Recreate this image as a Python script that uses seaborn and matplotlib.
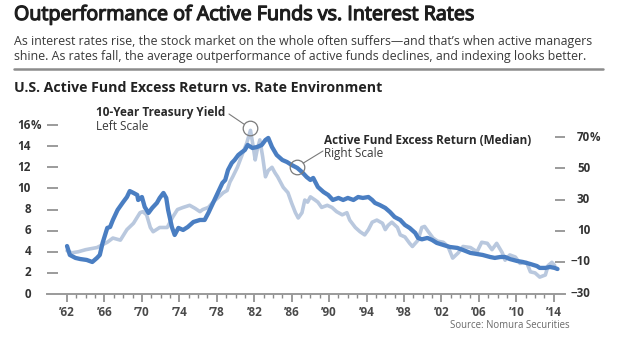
import matplotlib
matplotlib.use("Agg")
import matplotlib.pyplot as plt
import matplotlib.patheffects as pe
from matplotlib.ticker import FixedLocator
import pandas as pd
import seaborn as sns

# ---- data -------------------------------------------------------------
# 10-year Treasury yield, % (left scale)
yield_years = [
    1962.0, 1962.5, 1963.2, 1964.0, 1965.2, 1966.3, 1966.9, 1967.7, 1968.4, 1969.1,
    1969.8, 1970.1, 1970.5, 1970.9, 1971.2, 1971.9, 1972.7, 1973.3, 1973.8, 1974.4,
    1975.1, 1975.7, 1976.2, 1976.5, 1977.1, 1977.6, 1978.1, 1978.7, 1979.1, 1979.4,
    1979.7, 1980.2, 1980.5, 1980.8, 1981.2, 1981.6, 1981.9, 1982.1, 1982.3, 1982.6,
    1982.9, 1983.2, 1983.5, 1983.9, 1984.2, 1984.5, 1985.1, 1985.6, 1986.0, 1986.4,
    1986.7, 1987.1, 1987.4, 1987.7, 1988.0, 1988.5, 1988.8, 1989.2, 1989.8, 1990.3,
    1990.8, 1991.4, 1991.9, 1992.2, 1992.8, 1993.3, 1993.8, 1994.2, 1994.6, 1995.1,
    1995.7, 1996.0, 1996.3, 1996.7, 1997.3, 1997.6, 1998.1, 1998.6, 1998.9, 1999.5,
    1999.9, 2000.2, 2000.6, 2001.1, 2001.6, 2002.2, 2002.7, 2003.2, 2003.8, 2004.3,
    2005.1, 2005.8, 2006.3, 2006.9, 2007.4, 2007.9, 2008.5, 2008.8, 2009.3, 2009.9,
    2010.4, 2011.1, 2011.5, 2012.0, 2012.5, 2013.1, 2013.4, 2013.8, 2014.1,
]
yield_pct = [
    4.1, 3.9, 4.0, 4.2, 4.4, 4.9, 5.3, 5.1, 6.1, 6.7,
    7.7, 7.8, 7.5, 6.3, 5.9, 6.3, 6.3, 7.3, 8.0, 8.2,
    8.4, 8.1, 7.8, 8.0, 8.2, 8.7, 9.1, 9.6, 9.8, 10.6,
    11.1, 12.0, 12.7, 13.4, 14.3, 15.5, 13.9, 12.7, 13.6, 14.6,
    13.0, 11.1, 11.7, 12.0, 11.5, 11.1, 10.1, 9.6, 8.6, 7.7,
    7.2, 7.7, 8.9, 8.7, 9.2, 8.9, 8.7, 8.2, 8.4, 8.2,
    7.8, 7.5, 7.7, 7.0, 6.3, 5.9, 5.6, 6.1, 6.8, 7.0,
    6.7, 6.1, 6.5, 6.8, 6.3, 5.6, 5.4, 4.8, 4.5, 5.1,
    6.3, 6.4, 5.9, 5.3, 5.0, 4.9, 4.5, 3.4, 3.9, 4.5,
    4.4, 4.0, 4.9, 4.8, 4.2, 4.8, 3.9, 3.2, 3.7, 3.5,
    2.9, 3.0, 2.1, 2.0, 1.6, 1.8, 2.7, 3.0, 2.7,
]

# Median active-fund excess return, % (right scale)
excess_years = [
    1962.0, 1962.3, 1962.9, 1963.4, 1964.1, 1964.7, 1965.2, 1965.5, 1965.8, 1966.3,
    1966.6, 1966.9, 1967.4, 1968.0, 1968.4, 1968.7, 1969.1, 1969.5, 1969.6, 1970.0,
    1970.3, 1970.7, 1971.1, 1971.6, 1971.9, 1972.3, 1972.6, 1972.8, 1973.2, 1973.5,
    1973.9, 1974.4, 1974.9, 1975.5, 1976.2, 1976.7, 1977.1, 1977.6, 1978.1, 1978.6,
    1978.9, 1979.2, 1979.6, 1979.9, 1980.3, 1980.7, 1981.0, 1981.3, 1981.8, 1982.3,
    1982.8, 1983.2, 1983.5, 1983.9, 1984.4, 1985.0, 1985.5, 1986.0, 1986.6, 1987.1,
    1987.6, 1988.0, 1988.3, 1988.8, 1989.4, 1989.9, 1990.4, 1991.0, 1991.5, 1992.0,
    1992.6, 1993.1, 1993.6, 1994.2, 1994.6, 1994.9, 1995.4, 1996.0, 1996.5, 1997.0,
    1997.6, 1998.1, 1998.6, 1999.2, 1999.5, 1999.9, 2000.5, 2001.0, 2001.5, 2002.2,
    2002.9, 2003.7, 2004.3, 2005.1, 2005.8, 2006.4, 2007.2, 2007.7, 2008.3, 2008.8,
    2009.3, 2010.1, 2010.7, 2011.5, 2012.2, 2012.5, 2013.1, 2013.6, 2014.1, 2014.4,
]
excess_pct = [
    0.2, -5.5, -7.4, -8.1, -8.7, -10.0, -7.4, -5.5, 2.2, 11.8,
    12.4, 16.9, 23.3, 28.4, 31.6, 35.4, 34.2, 32.9, 29.7, 31.6,
    25.2, 21.4, 24.6, 27.8, 31.0, 34.2, 31.0, 23.3, 12.4, 7.3,
    11.8, 10.5, 12.4, 15.6, 16.9, 16.9, 21.4, 27.8, 34.2, 40.6,
    42.5, 48.9, 53.4, 55.3, 58.5, 60.4, 61.7, 64.9, 63.0, 63.6,
    64.9, 68.1, 69.4, 63.6, 58.5, 55.3, 54.0, 52.1, 50.2, 47.6,
    44.4, 42.5, 43.8, 38.0, 34.8, 32.9, 29.7, 31.0, 29.7, 31.0,
    29.7, 31.6, 31.0, 31.6, 29.7, 27.8, 26.5, 24.6, 22.0, 18.8,
    16.9, 13.7, 11.8, 8.6, 5.4, 4.5, 5.4, 4.1, 2.2, 0.9,
    -0.4, -1.0, -2.3, -4.2, -4.9, -5.5, -6.8, -7.4, -6.8, -6.8,
    -8.1, -9.4, -10.0, -11.3, -12.6, -13.8, -13.8, -13.2, -13.8, -14.5,
]

left_ticks = [2, 4, 6, 8, 10, 12, 14, 16]
left_labels = ["0", "2", "4", "6", "8", "10", "12", "14", "16"]
right_ticks = [-10, 10, 30, 50, 70]
right_labels = ["\u221230", "\u221210", "10", "30", "50", "70"]
year_ticks = list(range(1962, 2015, 4))
year_labels = ["\u2019" + str(y)[2:] for y in year_ticks]

title = "Outperformance of Active Funds vs. Interest Rates"
subtitle = ("As interest rates rise, the stock market on the whole often suffers\u2014and that\u2019s when active managers\n"
            "shine. As rates fall, the average outperformance of active funds declines, and indexing looks better.")
chart_title = "U.S. Active Fund Excess Return vs. Rate Environment"
source = "Source: Nomura Securities"

# ---- styling ----------------------------------------------------------
sns.set_theme(style="white")
plt.rcParams["font.family"] = ["Open Sans", "DejaVu Sans"]

DARK = "#4a7ec2"
LIGHT = "#b9c8de"
GREY_TICK = "#8a8a8a"
TICK_TEXT = "#333333"

W, H = 620, 337
fig = plt.figure(figsize=(W / 100, H / 100), dpi=100)
fig.patch.set_facecolor("white")

# plot area in pixel terms: x 47..565, y 120..294 (from top)
x0, x1, ytop, ybot = 47, 565, 120, 294
ax = fig.add_axes([x0 / W, (H - ybot) / H, (x1 - x0) / W, (ybot - ytop) / H])
ax2 = ax.twinx()

df_yield = pd.DataFrame({"year": yield_years, "pct": yield_pct})
df_excess = pd.DataFrame({"year": excess_years, "pct": excess_pct})

sns.lineplot(data=df_yield, x="year", y="pct", ax=ax, color=LIGHT, lw=2.6,
             solid_joinstyle="round", solid_capstyle="round")
sns.lineplot(data=df_excess, x="year", y="pct", ax=ax2, color=DARK, lw=3.1,
             solid_joinstyle="round", solid_capstyle="round")

ax.set_xlim(1959.86, 2015.2)
ax.set_ylim(0, 16.48)
ax2.set_ylim(-30.5, 80.9)

for a in (ax, ax2):
    a.set_xlabel("")
    a.set_ylabel("")
    a.set_facecolor("none")
    for s in ("top", "left", "right", "bottom"):
        a.spines[s].set_visible(False)

ax.spines["bottom"].set_visible(True)
ax.spines["bottom"].set_color("#9a9a9a")
ax.spines["bottom"].set_linewidth(1.4)

# x ticks: labelled every 4 years, minor every year
ax.xaxis.set_major_locator(FixedLocator(year_ticks))
ax.xaxis.set_minor_locator(FixedLocator(list(range(1962, 2015))))
ax.set_xticklabels(year_labels)
ax.tick_params(axis="x", which="major", direction="out", length=6, width=1.2,
               color=GREY_TICK, pad=3.0, labelsize=8.4, labelcolor="#4a4a4a", bottom=True)
ax.tick_params(axis="x", which="minor", direction="out", length=3, width=1.0,
               color=GREY_TICK, bottom=True)
for lab in ax.get_xticklabels():
    lab.set_fontweight("bold")

# y tick dashes inside the plot, labels placed as hanging numbers
ax.set_yticks(left_ticks)
ax.tick_params(axis="y", which="major", direction="in", length=8, width=1.2,
               color=GREY_TICK, left=True, labelleft=False)
ax2.set_yticks(right_ticks)
ax2.tick_params(axis="y", which="major", direction="in", length=7.5, width=1.2,
                color=GREY_TICK, right=True, labelright=False)
ax2.tick_params(axis="x", bottom=False, labelbottom=False)

TICK_FS = 8.4
lt = ax.get_yaxis_transform()
lx = (31 - x0) / (x1 - x0)
for v, s in zip([0] + left_ticks, left_labels):
    ax.text(lx, v, s, transform=lt, ha="right", va="center", fontsize=TICK_FS,
            fontweight="bold", color=TICK_TEXT)
ax.text(lx, 16, "%", transform=lt, ha="left", va="center", fontsize=TICK_FS,
        fontweight="bold", color=TICK_TEXT)

rt = ax2.get_yaxis_transform()
rx = (590 - x0) / (x1 - x0)
for v, s in zip([-30] + right_ticks, right_labels):
    ax2.text(rx, v, s, transform=rt, ha="right", va="center", fontsize=TICK_FS,
             fontweight="bold", color=TICK_TEXT)
ax2.text(rx, 70, "%", transform=rt, ha="left", va="center", fontsize=TICK_FS,
         fontweight="bold", color=TICK_TEXT)

# ---- headline text ------------------------------------------------------
def fpx(x, y):
    return x / W, 1 - y / H

fig.text(*fpx(14, 15), title, fontsize=14.2, color="#1e1e1e", va="center", ha="left",
         path_effects=[pe.withStroke(linewidth=0.9, foreground="#1e1e1e")])
fig.text(*fpx(14, 49), subtitle, fontsize=8.9, color="#3a3a3a", va="center", ha="left",
         linespacing=1.12)
fig.add_artist(plt.Line2D([14 / W, 603 / W], [1 - 69 / H, 1 - 69 / H],
                          color="#8c8c8c", lw=1.8))
fig.text(*fpx(14, 88), chart_title, fontsize=10.15, fontweight="bold", color="#222222",
         va="center", ha="left")
fig.text(*fpx(570, 325), source, fontsize=6.9, color="#6a6a6a", va="center", ha="right")

# ---- series call-outs ---------------------------------------------------
ANN_FS = 8.5
peak_year, peak_val = 1981.55, 15.7
ax.plot([peak_year], [peak_val], marker="o", ms=10.5, mfc="none", mec="#7a7a7a",
        mew=0.9, zorder=5)
fig.text(*fpx(96, 113), "10-Year Treasury Yield", fontsize=ANN_FS, fontweight="bold",
         color="#2a2a2a", va="center", ha="left")
fig.text(*fpx(96, 126), "Left Scale", fontsize=ANN_FS, color="#3a3a3a", va="center", ha="left")
ax.annotate("", xy=(peak_year, peak_val), xycoords="data",
            xytext=(229, H - 114), textcoords="figure pixels",
            arrowprops=dict(arrowstyle="-", color="#7a7a7a", lw=0.8,
                            shrinkA=0, shrinkB=5.3))

mark_year, mark_val = 1986.55, 50.8
ax2.plot([mark_year], [mark_val], marker="o", ms=10.5, mfc="none", mec="#7a7a7a",
         mew=0.9, zorder=5)
fig.text(*fpx(324, 141), "Active Fund Excess Return (Median)", fontsize=ANN_FS,
         fontweight="bold", color="#2a2a2a", va="center", ha="left")
fig.text(*fpx(324, 153), "Right Scale", fontsize=ANN_FS, color="#3a3a3a", va="center", ha="left")
ax2.annotate("", xy=(mark_year, mark_val), xycoords="data",
             xytext=(323, H - 151), textcoords="figure pixels",
             arrowprops=dict(arrowstyle="-", color="#7a7a7a", lw=0.8,
                             shrinkA=0, shrinkB=5.3))

fig.savefig("out.png", dpi=100, facecolor="white")
